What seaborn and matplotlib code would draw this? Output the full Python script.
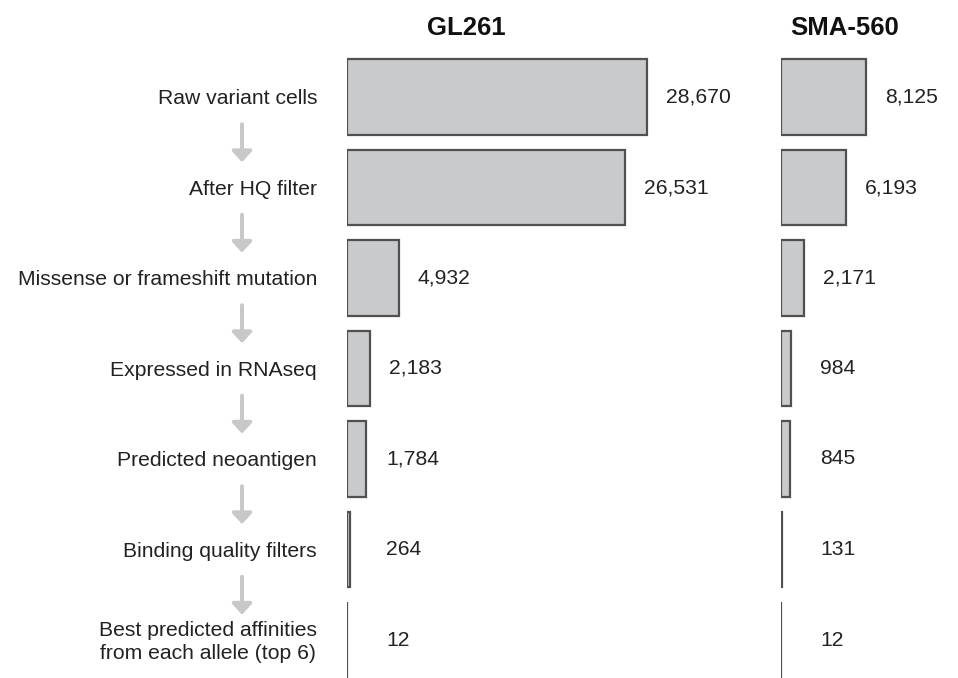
import numpy as np
import pandas as pd
import seaborn as sns
import matplotlib.pyplot as plt

sns.set_style('white')
plt.rcParams['font.family'] = ['Liberation Sans', 'DejaVu Sans']

stages = ['Raw variant cells', 'After HQ filter', 'Missense or frameshift mutation',
          'Expressed in RNAseq', 'Predicted neoantigen', 'Binding quality filters',
          'Best predicted affinities\nfrom each allele (top 6)']
gl261 = [28670, 26531, 4932, 2183, 1784, 264, 12]
sma560 = [8125, 6193, 2171, 984, 845, 131, 12]

df = pd.DataFrame({'stage': stages, 'GL261': gl261, 'SMA-560': sma560})

W, H = 958, 678
fig = plt.figure(figsize=(W / 100, H / 100), dpi=100)

per_px = 95.5  # counts per pixel, same scale in both panels
# name, left px, right px, title centre px
panels = [('GL261', 347, 770, 466), ('SMA-560', 781, 958, 845)]
top, bottom = 50, 678
row0, step = 97, 90.5
y_top = (top - row0) / step
y_bot = (bottom - row0) / step

axes = []
for name, x0, x1, xc in panels:
    ax = fig.add_axes([x0 / W, 1 - bottom / H, (x1 - x0) / W, (bottom - top) / H])
    sns.barplot(data=df, x=name, y='stage', ax=ax, color='#c9cacc', saturation=1,
                edgecolor='#505050', linewidth=1.6, width=0.83)
    ax.set_xlim(0, (x1 - x0) * per_px)
    ax.set_ylim(y_bot, y_top)
    ax.set_xlabel('')
    ax.set_ylabel('')
    ax.set_xticks([])
    ax.set_yticks([])
    for s in ax.spines.values():
        s.set_visible(False)
    for i, v in enumerate(df[name]):
        xt = max(v + 19 * per_px, 39 * per_px)
        ax.text(xt, i, f'{v:,}', va='center', ha='left', fontsize=15.2, color='#222222')
    fig.text(xc / W, 1 - 28 / H, name, ha='center', va='center',
             fontsize=18.5, fontweight='bold', color='#111111')
    axes.append(ax)

ax = axes[0]
for i, s in enumerate(stages):
    ax.text(-30 * per_px, i + 0.02, s, ha='right', va='center', multialignment='center',
            fontsize=15.2, color='#222222', linespacing=1.25, clip_on=False)

for i in range(len(stages) - 1):
    ax.annotate('', xy=(242 / W, i + 0.72), xytext=(242 / W, i + 0.30),
                xycoords=('figure fraction', 'data'), textcoords=('figure fraction', 'data'),
                arrowprops=dict(arrowstyle='-|>,head_width=0.6,head_length=0.65',
                                color='#c8c8c8', lw=2.8, shrinkA=0, shrinkB=0),
                annotation_clip=False)

fig.savefig('out.png', dpi=100)
